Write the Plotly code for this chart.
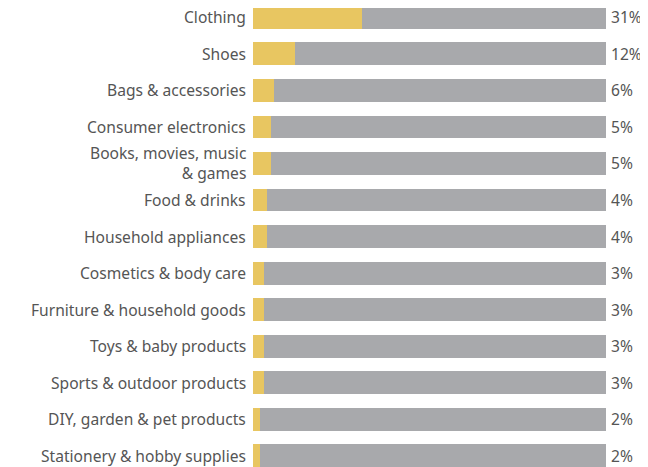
import plotly.graph_objects as go

categories = [
    "Clothing",
    "Shoes",
    "Bags & accessories",
    "Consumer electronics",
    "Books, movies, music<br>& games",
    "Food & drinks",
    "Household appliances",
    "Cosmetics & body care",
    "Furniture & household goods",
    "Toys & baby products",
    "Sports & outdoor products",
    "DIY, garden & pet products",
    "Stationery & hobby supplies",
]
shares = [31, 12, 6, 5, 5, 4, 4, 3, 3, 3, 3, 2, 2]
rest = [100 - v for v in shares]

YELLOW = "#E8C661"
GREY = "#A8A9AC"
TEXT = "#555555"
FONT = "Noto Sans"

idx = list(range(len(categories)))

fig = go.Figure()
fig.add_trace(go.Bar(y=idx, x=shares, orientation="h", marker=dict(color=YELLOW, line=dict(width=0)),
                     hoverinfo="skip"))
fig.add_trace(go.Bar(y=idx, x=rest, orientation="h", marker=dict(color=GREY, line=dict(width=0)),
                     hoverinfo="skip"))

# labels on both sides
for i, (cat, v) in enumerate(zip(categories, shares)):
    fig.add_annotation(x=0, y=i, xref="x", yref="y", text=cat, showarrow=False,
                       xanchor="right", xshift=-6, align="right", borderpad=0,
                       font=dict(family=FONT, size=15.6, color=TEXT))
    fig.add_annotation(x=100, y=i, xref="x", yref="y", text=f"{v}%", showarrow=False,
                       xanchor="left", xshift=4, borderpad=0,
                       font=dict(family=FONT, size=15.6, color=TEXT))

# page body has an 8px margin, so the figure is sized/shifted to fit the window
fig.update_layout(
    width=640, height=459,
    barmode="stack", bargap=0.37,
    showlegend=False,
    plot_bgcolor="white", paper_bgcolor="white",
    margin=dict(l=245, r=42, t=0, b=0),
)
fig.update_xaxes(range=[0, 100], visible=False, fixedrange=True)
fig.update_yaxes(range=[12.315, -0.260], visible=False, fixedrange=True)

fig.write_html("out.html", config={"displayModeBar": False})
